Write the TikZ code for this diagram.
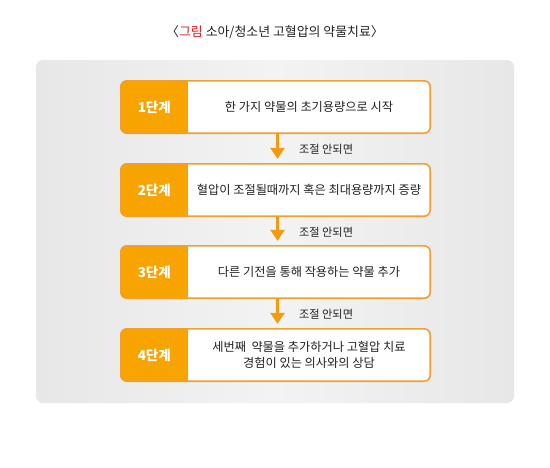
\documentclass[tikz,border=0pt]{standalone}
\usepackage{fontspec}
\setmainfont{Noto Sans CJK KR}
\usetikzlibrary{arrows.meta,calc}
\definecolor{orng}{HTML}{F7A400}
\definecolor{orngline}{HTML}{EFA030}
\definecolor{arrowc}{HTML}{F39A10}
\definecolor{panelgray}{HTML}{E7E7E7}
\definecolor{panellight}{HTML}{F3F3F3}
\definecolor{txt}{HTML}{222222}
\definecolor{titlered}{HTML}{D42020}
\tikzset{
  x=1pt, y=-1pt,
  stepbox/.style={minimum width=309pt, minimum height=52pt, inner sep=0pt, fill=white},
  stepframe/.style={draw=orngline, line width=1.6pt, rounded corners=6pt},
  stagelabel/.style={text=white, font=\fontsize{13.5}{15}\selectfont\bfseries},
  bodytext/.style={text=txt, font=\fontsize{12.2}{15.5}\selectfont, align=center},
  flowarrow/.style={draw=arrowc, line width=3pt, -{Triangle[width=14pt,length=11pt]}},
  arrowlabel/.style={text=txt, font=\fontsize{11.2}{13}\selectfont, anchor=west},
}
\begin{document}
\begin{tikzpicture}
\useasboundingbox (0,0) rectangle (550,467);
\fill[white] (0,0) rectangle (550,467);
% title
\node[text=txt, font=\fontsize{12.9}{15}\selectfont] (title) at (275,32) {〈\textcolor{titlered}{그림} 소아/청소년 고혈압의 약물치료〉};
% panel
\shade[rounded corners=7pt, left color=panelgray, right color=panelgray, middle color=panellight] (36,60) rectangle (514,403);
\node[draw=none, fill=none, minimum width=478pt, minimum height=343pt] (panel) at (275,231.5) {};
% boxes
\foreach \n/\yc in {1/107, 2/190, 3/272, 4/355}{
  \node[stepbox, rounded corners=6pt] (b\n) at (275.5,\yc) {};
  \begin{scope}
    \clip[rounded corners=6pt] (b\n.north west) rectangle (b\n.south east);
    \fill[orng] (b\n.north west) rectangle ($(b\n.south west)+(67,0)$);
  \end{scope}
  \draw[stepframe] (b\n.north west) rectangle (b\n.south east);
  \node[stagelabel] (s\n) at ($(b\n.west)+(33.5,0)$) {{\n}단계};
}
\node[bodytext] (t1) at ($(b1.center)+(33.5,0)$) {한 가지 약물의 초기용량으로 시작};
\node[bodytext] (t2) at ($(b2.center)+(33.5,0)$) {혈압이 조절될때까지 혹은 최대용량까지 증량};
\node[bodytext] (t3) at ($(b3.center)+(33.5,0)$) {다른 기전을 통해 작용하는 약물 추가};
\node[bodytext] (t4) at ($(b4.center)+(33.5,0)$) {세번째\ \ 약물을 추가하거나 고혈압 치료\\경험이 있는 의사와의 상담};
% arrows
\foreach \a/\b in {1/2, 2/3, 3/4}{
  \draw[flowarrow] ([xshift=2pt]b\a.south) -- ([xshift=2pt,yshift=5pt]b\b.north);
  \node[arrowlabel] (l\a) at ($([xshift=2pt]b\a.south)!0.5!([xshift=2pt]b\b.north)+(18,1)$) {조절 안되면};
}
\end{tikzpicture}
\end{document}
